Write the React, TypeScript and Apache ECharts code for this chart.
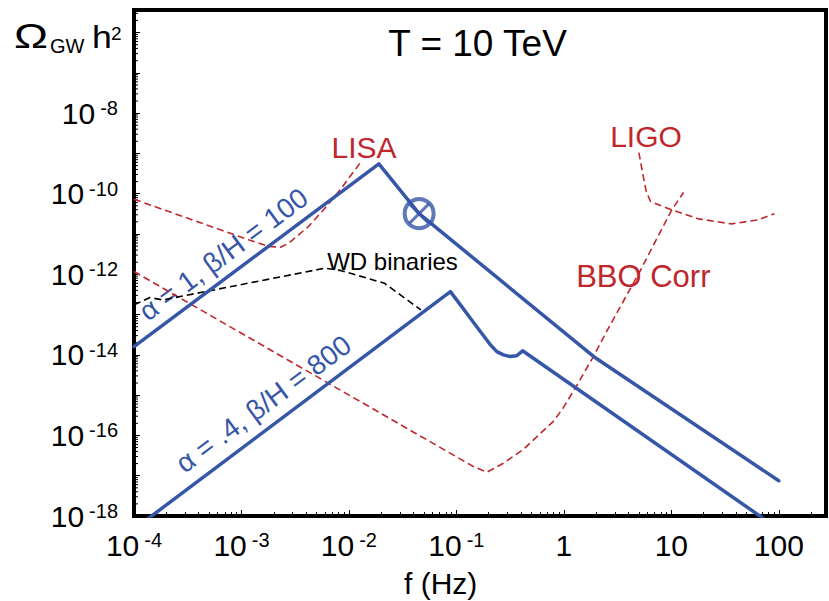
import React, { useEffect, useRef } from 'react';
import * as echarts from 'echarts';

const FONT = "'Liberation Sans', Arial, Helvetica, sans-serif";
const BLUE = '#3656a8';
const RED = '#c0272d';

// axis ranges (f in Hz, Omega_GW h^2 as powers of ten)
const xMin = 1e-4;
const xMax = 275;
const yMinExp = -18;
const yMaxExp = -5.44;
const xTickExponents = [-4, -3, -2, -1, 0, 1, 2];
const yTickExponents = [-18, -16, -14, -12, -10, -8];

// alpha = 1, beta/H = 100
const alpha1Freq = [1e-4, 0.019, 0.045, 1.9, 100];
const alpha1Omega = [1.6e-14, 5.5e-10, 3.2e-11, 9.0e-15, 7.5e-18];

// alpha = .4, beta/H = 800
const alpha04Freq = [1e-4, 0.088, 0.109, 0.135, 0.167, 0.207, 0.238, 0.274, 0.316, 0.364, 0.413, 100];
const alpha04Omega = [4.7e-19, 3.7e-13, 1.74e-13, 8.1e-14, 3.8e-14, 1.78e-14, 1.2e-14, 1.0e-14, 9.1e-15, 9.5e-15, 1.26e-14, 4.7e-19];

// LISA sensitivity
const lisaFreq = [1e-4, 1.18e-3, 1.8e-3, 2.31e-3, 2.75e-3, 4.2e-3, 6.0e-3, 8.5e-3, 1.3e-2];
const lisaOmega = [7.3e-11, 7.1e-12, 4.9e-12, 4.7e-12, 5.9e-12, 1.53e-11, 4.4e-11, 1.37e-10, 6.3e-10];

// BBO Corr sensitivity
const bboFreq = [1e-4, 0.145, 0.192, 0.274, 0.42, 0.597, 0.793, 0.981, 1.3, 1.92, 2.55, 3.63, 4.99, 10.1, 13.0];
const bboOmega = [1.17e-12, 1.67e-17, 1.22e-17, 2.04e-17, 4.5e-17, 1.09e-16, 2.2e-16, 4.7e-16, 1.63e-15, 9.95e-15, 4.2e-14, 2.3e-13, 1.06e-12, 3.97e-11, 1.07e-10];

// LIGO sensitivity
const ligoFreq = [4.99, 5.56, 5.85, 6.4, 10.1, 17.9, 36.3, 63.9, 91];
const ligoOmega = [1.05e-9, 2.2e-10, 1.13e-10, 6.4e-11, 3.97e-11, 2.37e-11, 1.78e-11, 2.24e-11, 3.2e-11];

// WD binaries foreground
const wdFreq = [1e-4, 1.41e-4, 1.86e-4, 6.0e-3, 8.5e-3, 0.0214, 0.0467];
const wdOmega = [1.74e-13, 2.64e-13, 2.31e-13, 1.42e-12, 1.23e-12, 6.0e-13, 1.3e-13];

// marker (circled cross)
const markerFreq = [0.045];
const markerOmega = [3.2e-11];

// minor ticks of the y axis (log spaced)
const yMinorTicks: number[] = [];
for (let n = yMinExp; n < 0; n++) {
  for (let k = 2; k <= 9; k++) {
    const v = n + Math.log10(k);
    if (v < yMaxExp) yMinorTicks.push(v);
  }
}

const pts = (fs: number[], os: number[]) => fs.map((f, i) => [f, Math.log10(os[i])]);

const rich = {
  b: { fontSize: 30, lineHeight: 30, fontFamily: FONT, color: '#000' },
  s: { fontSize: 20, lineHeight: 10, verticalAlign: 'top', padding: [0, 0, 0, 5], fontFamily: FONT, color: '#000' },
};

export default function App() {
  const ref = useRef<HTMLDivElement>(null);
  useEffect(() => {
    if (!ref.current) return;
    const chart = echarts.init(ref.current, undefined, { renderer: 'svg' });
    const solid = (name: string, fs: number[], os: number[]) => ({
      name, type: 'line', data: pts(fs, os), showSymbol: false, symbol: 'none', silent: true,
      lineStyle: { color: BLUE, width: 3.5, cap: 'round', join: 'round' },
    });
    const dashed = (name: string, fs: number[], os: number[], color: string) => ({
      name, type: 'line', data: pts(fs, os), showSymbol: false, symbol: 'none', silent: true,
      lineStyle: { color, width: 1.6, type: [7, 4] },
    });
    const option: any = {
      animation: false,
      textStyle: { fontFamily: FONT },
      grid: { left: 134, right: -3, top: 10, bottom: 85, show: true, borderColor: '#000', borderWidth: 4, backgroundColor: 'rgba(0,0,0,0)' },
      xAxis: {
        type: 'log', logBase: 10, min: xMin, max: xMax,
        axisLine: { show: false },
        splitLine: { show: false },
        axisTick: { show: true, inside: true, length: 6, lineStyle: { color: '#000', width: 1 } },
        minorTick: { show: true, splitNumber: 9, length: 4, lineStyle: { color: '#000', width: 1 } },
        axisLabel: {
          margin: 14,
          rich,
          formatter: (v: number) => {
            const e = Math.log10(v);
            const r = Math.round(e);
            if (Math.abs(e - r) > 1e-6 || !xTickExponents.includes(r)) return '';
            if (r < 0) return `{b|10}{s|-${-r}}`;
            return `{b|${Math.pow(10, r)}}`;
          },
        },
      },
      yAxis: {
        type: 'value', min: yMinExp, max: yMaxExp, interval: 1,
        axisLine: { show: false },
        splitLine: { show: false },
        axisTick: { show: true, inside: true, length: 6, lineStyle: { color: '#000', width: 1 } },
        axisLabel: {
          margin: 16,
          rich,
          formatter: (v: number) => {
            const r = Math.round(v);
            if (Math.abs(v - r) > 1e-6 || !yTickExponents.includes(r)) return '';
            return `{b|10}{s|${r}}`;
          },
        },
      },
      series: [
        dashed('LISA', lisaFreq, lisaOmega, RED),
        dashed('BBO Corr', bboFreq, bboOmega, RED),
        dashed('LIGO', ligoFreq, ligoOmega, RED),
        dashed('WD binaries', wdFreq, wdOmega, '#000'),
        solid('alpha1', alpha1Freq, alpha1Omega),
        solid('alpha04', alpha04Freq, alpha04Omega),
        {
          type: 'scatter', silent: true, data: pts(markerFreq, markerOmega), symbol: 'circle', symbolSize: 29,
          itemStyle: { color: 'rgba(0,0,0,0)', borderColor: BLUE, borderWidth: 4 }, z: 5,
        },
        {
          type: 'scatter', silent: true, data: pts(markerFreq, markerOmega), symbol: 'path://M0,0L10,10M10,0L0,10', symbolSize: 20,
          itemStyle: { color: 'rgba(0,0,0,0)', borderColor: BLUE, borderWidth: 3 }, z: 5,
        },
        {
          type: 'custom', silent: true, clip: false, z: 1,
          data: yMinorTicks.map((v) => [xMin, v]),
          renderItem: (params: any, api: any) => {
            const p = api.coord([api.value(0), api.value(1)]);
            return { type: 'line', shape: { x1: p[0], y1: p[1], x2: p[0] + 4, y2: p[1] }, style: { stroke: '#000', lineWidth: 1 } };
          },
        },
      ],
      graphic: [
        { type: 'text', x: 14, y: 35.5, scaleX: 1.3, style: { text: 'Ω', fontSize: 35, fontFamily: FONT, fill: '#000', align: 'left', verticalAlign: 'middle' } },
        { type: 'text', x: 50, y: 45.5, style: { text: 'GW', fontSize: 20, fontFamily: FONT, fill: '#000', align: 'left', verticalAlign: 'middle' } },
        { type: 'text', x: 92, y: 37, scaleX: 1.15, style: { text: 'h', fontSize: 31, fontFamily: FONT, fill: '#000', align: 'left', verticalAlign: 'middle' } },
        { type: 'text', x: 111, y: 33, style: { text: '2', fontSize: 19, fontFamily: FONT, fill: '#000', align: 'left', verticalAlign: 'middle' } },
        { type: 'text', x: 477.5, y: 43.5, style: { text: 'T = 10 TeV', fontSize: 37, fontFamily: FONT, fill: '#000', align: 'center', verticalAlign: 'middle' } },
        { type: 'text', x: 364, y: 147, style: { text: 'LISA', fontSize: 30, fontFamily: FONT, fill: RED, align: 'center', verticalAlign: 'middle' } },
        { type: 'text', x: 646, y: 136, style: { text: 'LIGO', fontSize: 30, fontFamily: FONT, fill: RED, align: 'center', verticalAlign: 'middle' } },
        { type: 'text', x: 643.3, y: 276.7, style: { text: 'BBO Corr', fontSize: 31, fontFamily: FONT, fill: RED, align: 'center', verticalAlign: 'middle' } },
        { type: 'text', x: 392.5, y: 261.3, style: { text: 'WD binaries', fontSize: 24, fontFamily: FONT, fill: '#000', align: 'center', verticalAlign: 'middle' } },
        { type: 'text', x: 223.5, y: 254.3, rotation: 0.637, style: { text: 'α = 1, β/H = 100', fontSize: 28, fontFamily: FONT, fill: BLUE, align: 'center', verticalAlign: 'middle' } },
        { type: 'text', x: 263.5, y: 403.9, rotation: 0.637, style: { text: 'α = .4, β/H = 800', fontSize: 28, fontFamily: FONT, fill: BLUE, align: 'center', verticalAlign: 'middle' } },
        { type: 'text', x: 404, y: 583.3, style: { text: 'f (Hz)', fontSize: 30, fontFamily: FONT, fill: '#000', align: 'left', verticalAlign: 'middle' } },
      ],
    };
    chart.setOption(option);
    return () => chart.dispose();
  }, []);
  return <div ref={ref} style={{ position: 'fixed', left: 0, top: 0, width: 829, height: 601, background: '#fff' }} />;
}
